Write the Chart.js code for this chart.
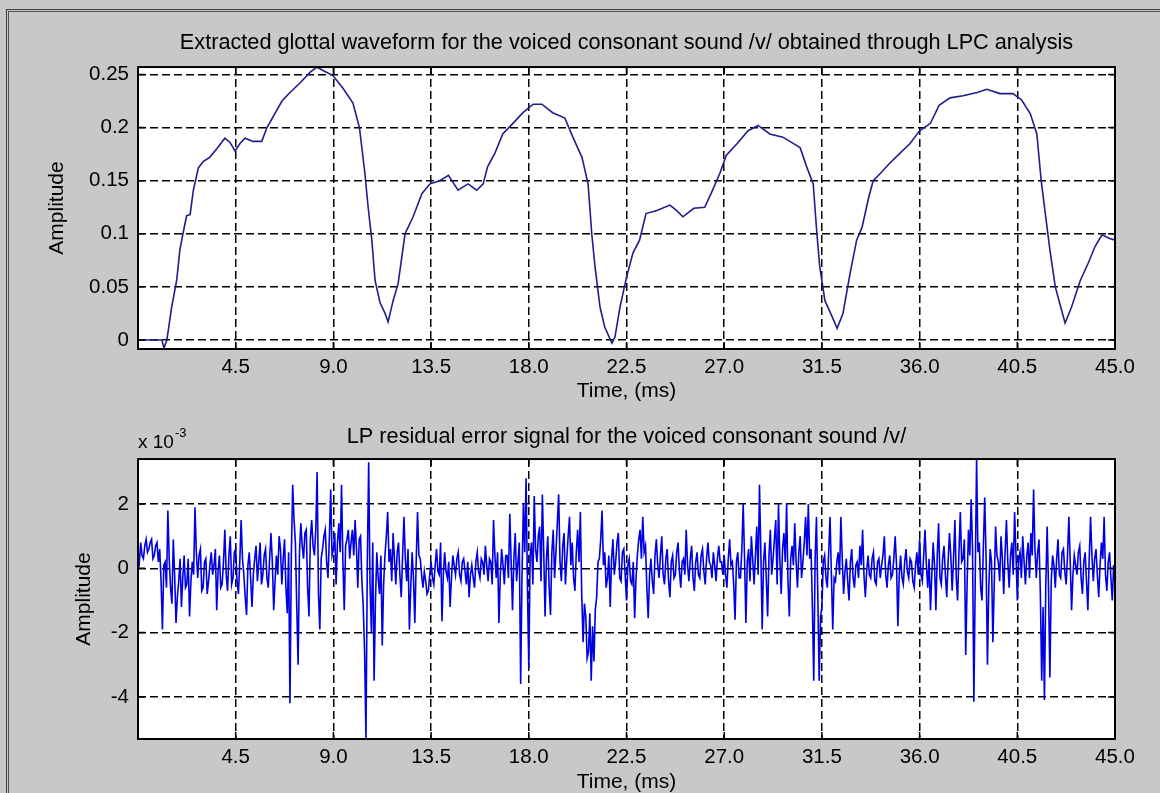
<!DOCTYPE html>
<html>
<head>
<meta charset="utf-8">
<script src="https://cdn.jsdelivr.net/npm/chart.js@4.4.1/dist/chart.umd.min.js"></script>
<style>
  html, body { margin: 0; padding: 0; background: #c8c8c8; width: 1160px; height: 793px; overflow: hidden; }
  #frame1 { position: absolute; left: 6px; top: 9px; width: 1200px; height: 900px; border-left: 1px solid #404040; border-top: 1px solid #404040; }
  #frame2 { position: absolute; left: 8px; top: 11px; width: 1200px; height: 900px; border-left: 1px solid #505050; border-top: 1px solid #505050; }
  canvas { position: absolute; left: 0; top: 0; }
</style>
</head>
<body>
<div id="frame1"></div>
<div id="frame2"></div>
<canvas id="c1" width="1160" height="793"></canvas>
<canvas id="c2" width="1160" height="793"></canvas>
<script>
// ---------------- data ----------------
const topTitle = 'Extracted glottal waveform for the voiced consonant sound /v/ obtained through LPC analysis';
const bottomTitle = 'LP residual error signal for the voiced consonant sound /v/';
const xTitle = 'Time, (ms)';
const yTitle = 'Amplitude';

const xTickValues = [4.5, 9, 13.5, 18, 22.5, 27, 31.5, 36, 40.5, 45];
const xTickLabels = ['4.5', '9.0', '13.5', '18.0', '22.5', '27.0', '31.5', '36.0', '40.5', '45.0'];

const topYTickValues = [0, 0.05, 0.1, 0.15, 0.2, 0.25];
const topYTickLabels = ['0', '0.05', '0.1', '0.15', '0.2', '0.25'];

const botYTickValues = [-4, -2, 0, 2];
const botYTickLabels = ['-4', '-2', '0', '2'];

// glottal waveform (time in ms, amplitude)
const glottalTime = [0, 0.5, 1.0, 1.1, 1.2, 1.33, 1.55, 1.78, 1.93, 2.07, 2.24, 2.4, 2.55, 2.78, 3.0, 3.3, 3.63, 4.0, 4.24, 4.47, 4.7, 4.93, 5.3, 5.7, 5.94, 6.22, 6.63, 7.0, 7.46, 7.92, 8.24, 8.5, 8.98, 9.44, 9.9, 10.2, 10.45, 10.6, 10.77, 10.92, 11.15, 11.38, 11.52, 11.75, 11.98, 12.3, 12.67, 13.08, 13.45, 13.9, 14.3, 14.74, 15.2, 15.6, 15.9, 16.1, 16.44, 16.8, 17.27, 17.73, 18.2, 18.6, 19.1, 19.66, 20.03, 20.45, 20.73, 20.9, 21.05, 21.28, 21.5, 21.83, 21.97, 22.2, 22.5, 22.8, 23.1, 23.4, 23.9, 24.5, 24.8, 25.1, 25.6, 26.1, 26.4, 26.8, 27.1, 27.6, 28.1, 28.56, 29.1, 29.7, 30.35, 30.5, 30.8, 31.1, 31.27, 31.4, 31.64, 31.97, 32.2, 32.47, 32.8, 33.1, 33.35, 33.63, 33.86, 34.2, 34.6, 35.1, 35.56, 36.0, 36.5, 36.9, 37.4, 38.0, 38.65, 39.1, 39.7, 40.3, 40.7, 41.1, 41.4, 41.6, 41.87, 42.0, 42.25, 42.5, 42.7, 43.0, 43.4, 43.76, 44.08, 44.4, 44.7, 45.0];
const glottalAmp = [0, 0, 0, 0, -0.0075, 0, 0.031, 0.056, 0.085, 0.10, 0.117, 0.118, 0.141, 0.162, 0.168, 0.172, 0.18, 0.19, 0.186, 0.178, 0.185, 0.19, 0.187, 0.187, 0.2, 0.21, 0.225, 0.233, 0.242, 0.252, 0.257, 0.254, 0.249, 0.237, 0.223, 0.2, 0.157, 0.125, 0.094, 0.056, 0.035, 0.025, 0.017, 0.037, 0.053, 0.10, 0.116, 0.138, 0.147, 0.15, 0.155, 0.141, 0.147, 0.141, 0.147, 0.163, 0.176, 0.194, 0.204, 0.214, 0.222, 0.222, 0.214, 0.209, 0.191, 0.172, 0.147, 0.10, 0.069, 0.031, 0.012, -0.003, 0.003, 0.031, 0.059, 0.082, 0.094, 0.119, 0.122, 0.127, 0.122, 0.116, 0.124, 0.125, 0.138, 0.157, 0.174, 0.185, 0.197, 0.202, 0.194, 0.191, 0.183, 0.181, 0.163, 0.147, 0.10, 0.069, 0.037, 0.022, 0.011, 0.025, 0.063, 0.094, 0.106, 0.132, 0.15, 0.157, 0.166, 0.176, 0.185, 0.197, 0.204, 0.221, 0.228, 0.230, 0.233, 0.236, 0.232, 0.232, 0.226, 0.213, 0.194, 0.15, 0.106, 0.085, 0.05, 0.031, 0.016, 0.031, 0.056, 0.072, 0.088, 0.099, 0.096, 0.094];

// LP residual (units of 1e-3), 16 samples per ms (one row per ms)
const residualStepMs = 0.0625;
const residualE3 = [
  0.5, 0.2, 0.8, 0.4, 0.3, 0.7, 0.9, 0.5, 0.6, 0.8, 0.9, 0.3, 0.4, 0.7, 0.8, 0.2,
  0.6, -0.4, -1.9, 0.1, 0.2, -0.6, 1.8, 0.3, -0.6, -1.1, 0.9, -0.2, -1.7, -0.9, -0.4, 0.3,
  -1.2, -0.3, 0.4, -0.6, -0.5, 0.3, -1.5, -0.4, 0.2, -0.2, 1.9, 0.5, -0.3, 0.4, 0.6, -0.7,
  -0.6, 0.2, 0.3, -0.8, -0.4, 0.1, 0.5, -0.2, 0.1, 0.6, -1.3, -0.1, 0.4, -0.6, -0.5, 0.2,
  1.2, -0.2, -0.7, 0.4, 1.0, -0.5, -0.3, 0.5, 0.6, -0.4, -0.8, 0.2, 1.5, 0.3, -0.2, -0.9,
  -1.45, 0.1, 0.5, -0.3, -1.2, -0.2, 0.3, 0.7, -0.4, 0.2, 0.8, -0.5, -0.2, 0.4, 0.6, -0.3,
  -0.6, 0.3, 1.1, 0.2, -1.3, -0.4, 0.4, -0.2, 1.0, 0.6, -0.5, 0.3, 0.9, -0.6, -1.4, 0.5,
  -4.2, 0.4, 2.6, 1.5, 0.8, -1.2, -3.0, 0.5, 1.4, 0.7, 0.3, 1.1, 1.2, -0.6, -1.5, 0.9,
  1.5, 0.7, 0.4, 1.2, 3.0, -0.8, -1.9, 0.3, 0.6, 1.0, 1.2, 0.2, -0.3, 0.9, 2.45, 0.4,
  0.6, 1.1, -0.5, 0.8, 1.4, 0.5, 2.6, 0.2, -1.3, 0.7, 0.9, 1.2, 0.3, 0.8, 1.2, 0.4,
  1.5, 0.6, -0.6, 0.9, 1.0, -0.4, -1.2, -2.6, -5.3, 0.2, 3.3, -0.5, -2.0, 0.8, -3.5, -1.0,
  0.5, -0.3, -0.8, 0.4, -2.4, -0.5, 0.4, 1.0, 1.75, 0.2, 0.6, -0.4, 1.1, 0.3, -0.5, 0.5,
  0.8, -0.2, -0.9, 0.4, 1.6, 0.3, -0.4, 0.6, -1.9, -0.6, 0.5, -0.3, -1.7, 0.2, 1.75, 0.4,
  0.3, -0.2, -0.6, -0.1, -0.4, -0.8, -0.7, -0.2, 0.2, -0.3, -0.5, 0.1, 0.6, -0.1, -0.2, 0.8,
  -1.65, -0.2, 0.5, -0.1, -0.3, 0.2, -1.2, -0.3, 0.4, 0.1, -0.2, 0.3, 0.5, -0.2, -0.4, 0.2,
  0.3, -0.1, -0.5, 0.2, -0.9, -0.2, 0.1, -0.3, -0.6, 0.2, 0.5, -0.1, -0.3, 0.3, 0.2, -0.2,
  0.7, 0.1, -0.4, 0.3, 0.2, -0.5, 1.5, 0.4, -0.3, 0.5, -1.7, -0.2, 0.6, 0.1, -0.5, 0.4,
  0.4, -0.3, 1.7, 0.2, -1.3, 0.3, 1.1, -0.4, 0.2, 0.8, -3.6, -0.2, 2.0, 0.5, 2.8, -0.6,
  -3.1, 0.4, 0.8, -0.5, 2.25, 0.6, 0.2, 1.0, 1.3, -0.4, 2.3, 0.5, -1.5, 0.3, 1.0, -0.6,
  -1.45, 0.5, 1.2, -0.3, 0.5, 1.4, 2.3, 0.2, -0.4, 0.7, 1.1, -0.5, 0.3, 1.0, 1.6, 0.1,
  0.8, -0.3, -0.7, 0.5, 1.2, 0.2, 1.75, -0.8, -2.3, -1.1, -1.5, -2.8, -2.6, -1.4, -3.5, -1.8,
  -2.9, -1.3, -0.9, 0.2, 0.3, 0.9, 1.8, 0.1, 0.5, -0.6, -0.3, 0.4, -1.2, 0.3, 0.9, -0.2,
  0.2, 0.8, 1.1, -0.3, -0.4, 0.5, 0.6, -0.2, -1.0, 0.1, 0.3, -0.4, -0.5, 0.2, -1.55, -0.3,
  0.4, 0.9, 1.2, 0.3, 1.6, 0.5, 0.7, -0.6, -1.55, -0.2, 0.3, -0.4, -0.8, 0.4, 0.9, 0.1,
  -0.3, 0.4, 1.0, -0.2, -0.5, 0.3, 0.6, -0.4, -0.9, 0.2, 0.4, -0.3, -0.2, 0.5, 0.8, -0.1,
  -0.6, 0.2, 0.3, -0.2, 1.2, 0.1, -0.4, 0.3, 0.7, -0.3, -0.7, 0.2, 0.5, -0.2, -0.3, 0.4,
  0.6, -0.1, -0.5, 0.3, 0.8, 0.2, 0.1, -0.3, 0.5, 0.1, -0.4, 0.3, 0.7, 0.2, 0.2, -0.2,
  0.4, -0.2, -0.6, 0.3, 0.9, 0.1, 0.2, -0.5, -1.6, 0.2, 0.5, -0.3, -0.3, 0.6, 2.0, 0.3,
  -1.7, 0.2, 0.6, -0.4, 1.0, 0.3, -0.5, 0.4, 1.3, -0.2, 2.6, 0.5, -1.9, 0.2, 0.8, -0.3,
  -1.5, 0.4, 1.2, -0.2, 0.3, 0.9, 1.5, -0.5, 2.0, 0.3, -0.8, 0.6, 1.1, 0.2, 2.0, -0.4,
  -1.5, 0.3, 0.7, 0.1, 1.4, 0.2, -0.6, 0.5, 1.0, -0.3, 0.2, 0.8, 1.6, 0.4, 2.0, 0.3,
  0.6, -1.2, -3.5, 0.3, 1.6, -0.9, -3.5, -1.5, -1.2, 0.2, 0.4, -0.3, -0.6, 0.5, 1.6, -0.2,
  -1.9, -0.3, -0.4, 0.2, 0.5, -0.2, 1.6, 0.3, -0.8, -0.1, 0.3, -0.4, -1.0, 0.2, 0.6, -0.3,
  -0.6, 0.1, 0.2, -0.3, 0.7, 0.1, 1.2, -0.2, -0.9, -0.1, 0.4, -0.2, -0.3, 0.3, 0.5, -0.4,
  -0.5, 0.2, 0.3, -0.3, 0.1, 0.4, 1.0, -0.2, -0.6, 0.1, 0.4, -0.3, -0.2, 0.3, 1.0, 0.1,
  -1.8, -0.2, 0.4, -0.3, -0.5, 0.2, 0.6, -0.1, -0.3, 0.3, 0.2, -0.4, -0.6, 0.1, 0.5, -0.2,
  0.9, -0.2, -0.4, 0.4, 1.2, 0.1, -0.6, 0.3, -1.3, -0.2, 0.8, 0.1, -1.3, 0.4, 1.4, -0.3,
  -0.5, 0.3, 0.7, -0.2, -0.9, 0.2, 1.1, 0.4, -0.7, 0.3, 1.5, -0.3, -1.0, 0.5, 1.75, 0.2,
  0.3, 0.9, -2.7, -0.5, 1.2, 0.4, 2.15, 0.6, -4.15, -0.3, 3.4, 0.5, 0.8, -0.6, -1.0, 0.7,
  2.2, 0.3, -3.0, -0.6, 0.6, 0.2, -2.3, -0.5, 1.3, 0.4, 0.2, -0.4, 1.0, 0.3, -0.8, 0.5,
  1.5, 0.2, -0.6, 0.4, 0.8, -0.2, 1.75, 0.5, -1.0, 0.3, 0.5, -0.3, 1.0, 0.2, -0.5, 0.4,
  0.8, -0.3, 1.1, 0.4, 2.45, 0.6, -0.3, 0.5, 0.9, -0.8, -3.5, -1.2, -4.1, -0.5, 1.3, -0.6,
  -3.4, -0.4, 0.4, 0.1, -0.6, 0.3, 0.9, -0.2, -0.3, 0.5, 0.6, -0.1, -0.5, 0.4, 1.6, 0.2,
  -1.3, -0.2, 0.4, 0.1, -0.2, 0.5, 0.7, -0.3, -0.8, 0.2, 0.5, -0.4, -1.3, 0.3, 1.6, 0.4,
  -0.4, 0.3, 0.6, -0.2, -0.9, 0.1, 0.8, 0.3, 1.6, -0.2, -0.7, 0.2, 0.5, -0.3, -1.0, 0.1,
  -0.5
];

// ---------------- rendering ----------------
const FONT = '"Liberation Sans", Arial, Helvetica, sans-serif';
Chart.defaults.font.family = FONT;
Chart.defaults.font.size = 20.5;
Chart.defaults.color = '#000';

const matlabAxes = {
  id: 'matlabAxes',
  beforeDraw(chart) {
    const {ctx, chartArea: a} = chart;
    ctx.save();
    ctx.fillStyle = '#ffffff';
    ctx.fillRect(a.left, a.top, a.right - a.left, a.bottom - a.top);
    ctx.restore();
  },
  afterDraw(chart, args, opts) {
    const {ctx, chartArea: a, scales: {x, y}} = chart;
    ctx.save();
    ctx.setLineDash([]);
    ctx.strokeStyle = '#000';
    ctx.lineWidth = 1.5;
    ctx.beginPath();
    x.ticks.forEach(t => {
      const p = x.getPixelForValue(t.value);
      ctx.moveTo(p, a.bottom); ctx.lineTo(p, a.bottom - 7);
      ctx.moveTo(p, a.top); ctx.lineTo(p, a.top + 7);
    });
    y.ticks.forEach(t => {
      const p = y.getPixelForValue(t.value);
      ctx.moveTo(a.left, p); ctx.lineTo(a.left + 7, p);
      ctx.moveTo(a.right, p); ctx.lineTo(a.right - 7, p);
    });
    ctx.stroke();
    ctx.lineWidth = 2;
    ctx.strokeRect(a.left, a.top, a.right - a.left, a.bottom - a.top);
    if (opts && opts.exponent) {
      ctx.fillStyle = '#000';
      ctx.textAlign = 'left';
      ctx.textBaseline = 'alphabetic';
      ctx.font = '19px ' + FONT;
      const base = 'x 10';
      ctx.fillText(base, a.left, a.top - 11);
      const w = ctx.measureText(base).width;
      ctx.font = '13px ' + FONT;
      ctx.fillText(opts.exponent, a.left + w + 1, a.top - 22);
    }
    ctx.restore();
  }
};

function makeChart(id, cfg) {
  return new Chart(document.getElementById(id), {
    type: 'line',
    data: { datasets: [{
      data: cfg.points,
      borderColor: cfg.color,
      borderWidth: cfg.lineWidth,
      pointRadius: 0,
      tension: 0,
      fill: false
    }]},
    options: {
      responsive: false,
      devicePixelRatio: 1,
      animation: false,
      events: [],
      layout: { padding: cfg.padding },
      plugins: {
        legend: { display: false },
        tooltip: { enabled: false },
        title: {
          display: true,
          text: cfg.title,
          fullSize: false,
          color: '#000',
          font: { size: 21.7, weight: 'normal' },
          padding: cfg.titlePadding
        },
        matlabAxes: { exponent: cfg.exponent }
      },
      scales: {
        x: {
          type: 'linear',
          min: 0, max: 45,
          afterFit(s) { s.height = cfg.xAxisHeight; },
          afterBuildTicks(s) { s.ticks = xTickValues.map(v => ({ value: v })); },
          ticks: {
            padding: 6,
            maxRotation: 0,
            autoSkip: false,
            callback: (v, i) => xTickLabels[i]
          },
          grid: { color: '#000', lineWidth: 1.5, drawTicks: false },
          border: { display: false, dash: [8, 4] },
          title: { display: true, text: xTitle, font: { size: 21 }, padding: { top: 0, bottom: cfg.xTitlePad } }
        },
        y: {
          type: 'linear',
          min: cfg.yMin, max: cfg.yMax,
          afterFit(s) { s.width = 138; },
          afterBuildTicks(s) { s.ticks = cfg.yTicks.map(v => ({ value: v })); },
          ticks: {
            padding: 9,
            autoSkip: false,
            callback: (v, i) => cfg.yLabels[i]
          },
          grid: { color: '#000', lineWidth: 1.5, drawTicks: false },
          border: { display: false, dash: [8, 4] },
          title: { display: true, text: yTitle, font: { size: 21 }, padding: { top: cfg.yTitlePad, bottom: 0 } }
        }
      }
    },
    plugins: [matlabAxes]
  });
}

makeChart('c1', {
  points: glottalTime.map((t, i) => ({ x: t, y: glottalAmp[i] })),
  color: '#1e1e8c',
  lineWidth: 1.6,
  padding: { left: 0, top: 0, right: 45, bottom: 383 },
  title: topTitle,
  titlePadding: { top: 30, bottom: 11 },
  xAxisHeight: 61,
  xTitlePad: 6,
  yMin: -0.0085, yMax: 0.257,
  yTicks: topYTickValues, yLabels: topYTickLabels,
  yTitlePad: 45,
  exponent: null
});

makeChart('c2', {
  points: residualE3.map((v, i) => ({ x: i * residualStepMs, y: v })),
  color: '#0000e6',
  lineWidth: 1.6,
  padding: { left: 0, top: 424, right: 45, bottom: 0 },
  title: bottomTitle,
  titlePadding: { top: 0, bottom: 9 },
  xAxisHeight: 54,
  xTitlePad: -2,
  yMin: -5.31, yMax: 3.4,
  yTicks: botYTickValues, yLabels: botYTickLabels,
  yTitlePad: 72,
  exponent: '-3'
});
</script>
</body>
</html>
